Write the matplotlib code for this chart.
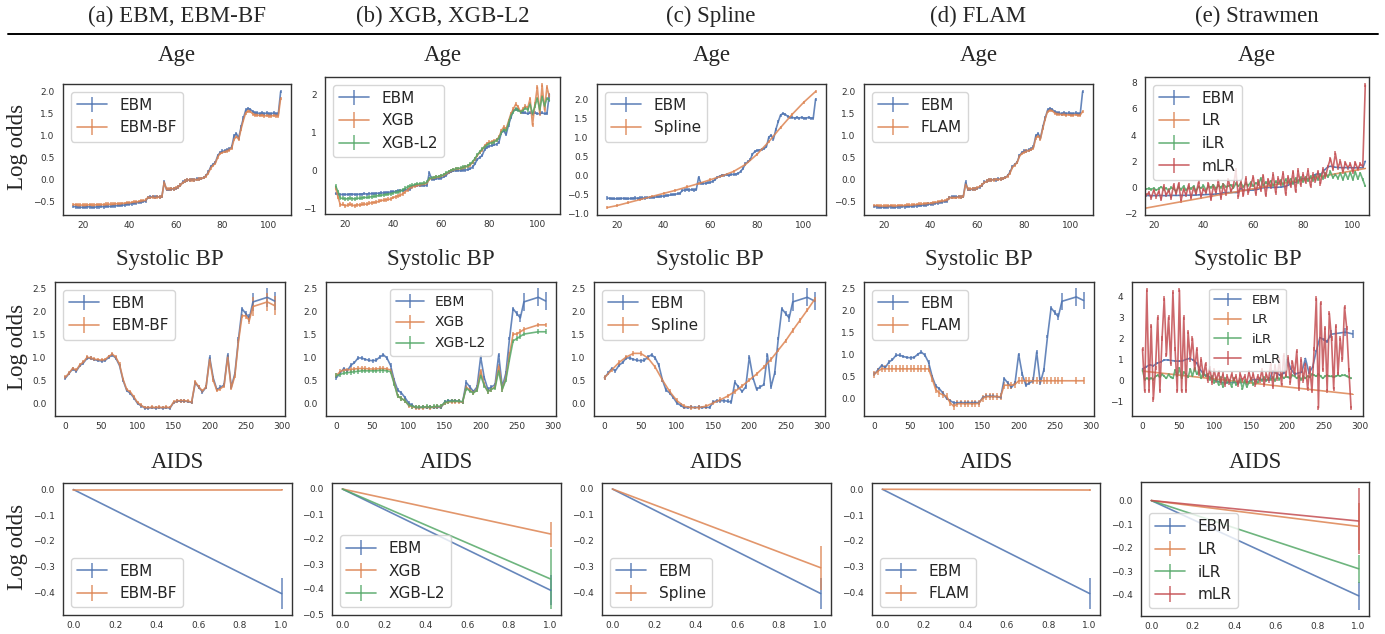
import numpy as np
import matplotlib
matplotlib.use("Agg")
import matplotlib.pyplot as plt
import seaborn as sns

sns.set_style("white")
plt.rcParams['font.family'] = ['DejaVu Sans']

blue, orange, green, red = sns.color_palette("deep")[:4]

# ---------------- Age ----------------
age_x = np.arange(16, 106)

ebm_age = [-0.60, -0.61, -0.62, -0.62, -0.62, -0.62, -0.61, -0.61, -0.62, -0.62,
           -0.61, -0.61, -0.60, -0.61, -0.60, -0.60, -0.60, -0.59, -0.59, -0.58,
           -0.58, -0.57, -0.57, -0.55, -0.55, -0.54, -0.53, -0.52, -0.51, -0.50,
           -0.49, -0.48, -0.40, -0.39, -0.38, -0.39, -0.38, -0.39, -0.38, -0.05,
           -0.22, -0.22, -0.21, -0.20, -0.19, -0.16, -0.12, -0.05, -0.03, 0.00,
           0.00, 0.01, 0.00, 0.02, 0.02, 0.03, 0.05, 0.10, 0.18, 0.30,
           0.35, 0.40, 0.55, 0.62, 0.65, 0.66, 0.68, 0.70, 0.75, 1.00,
           1.05, 0.95, 1.20, 1.40, 1.58, 1.62, 1.60, 1.55, 1.52, 1.52,
           1.50, 1.52, 1.50, 1.52, 1.50, 1.50, 1.52, 1.50, 1.50, 2.00]

ebmbf_age = [-0.56, -0.56, -0.57, -0.57, -0.57, -0.57, -0.57, -0.56, -0.57, -0.57,
             -0.56, -0.56, -0.56, -0.56, -0.55, -0.55, -0.55, -0.55, -0.54, -0.54,
             -0.54, -0.53, -0.53, -0.52, -0.52, -0.51, -0.50, -0.50, -0.49, -0.48,
             -0.47, -0.46, -0.40, -0.40, -0.39, -0.40, -0.39, -0.39, -0.38, -0.06,
             -0.21, -0.21, -0.20, -0.20, -0.18, -0.16, -0.12, -0.06, -0.03, 0.00,
             0.00, 0.00, 0.00, 0.01, 0.02, 0.03, 0.05, 0.09, 0.16, 0.27,
             0.33, 0.38, 0.52, 0.60, 0.62, 0.64, 0.66, 0.68, 0.72, 0.92,
             0.98, 0.92, 1.15, 1.35, 1.52, 1.56, 1.55, 1.50, 1.47, 1.47,
             1.46, 1.47, 1.45, 1.46, 1.45, 1.45, 1.46, 1.45, 1.45, 1.85]

xgb_age = [-0.45, -0.70, -0.90, -0.88, -0.92, -0.90, -0.88, -0.90, -0.92, -0.89,
           -0.90, -0.88, -0.87, -0.88, -0.85, -0.84, -0.83, -0.82, -0.80, -0.78,
           -0.77, -0.76, -0.75, -0.74, -0.70, -0.68, -0.66, -0.64, -0.60, -0.55,
           -0.50, -0.45, -0.42, -0.40, -0.38, -0.37, -0.36, -0.35, -0.33, -0.22,
           -0.20, -0.19, -0.17, -0.16, -0.14, -0.12, -0.08, -0.04, 0.00, 0.02,
           0.04, 0.05, 0.06, 0.08, 0.10, 0.12, 0.15, 0.22, 0.30, 0.40,
           0.48, 0.55, 0.65, 0.72, 0.75, 0.76, 0.78, 0.82, 0.88, 1.05,
           1.15, 1.10, 1.30, 1.50, 1.62, 1.75, 1.68, 1.55, 1.62, 1.70,
           1.65, 1.90, 1.20, 1.75, 2.20, 1.50, 2.25, 1.60, 2.20, 1.95]

xgbl2_age = [-0.40, -0.55, -0.72, -0.72, -0.74, -0.73, -0.72, -0.73, -0.74, -0.72,
             -0.72, -0.71, -0.70, -0.70, -0.69, -0.68, -0.67, -0.66, -0.65, -0.64,
             -0.63, -0.62, -0.61, -0.60, -0.58, -0.56, -0.55, -0.53, -0.50, -0.46,
             -0.42, -0.40, -0.38, -0.36, -0.35, -0.34, -0.34, -0.33, -0.30, -0.20,
             -0.19, -0.18, -0.16, -0.15, -0.13, -0.10, -0.06, -0.02, 0.01, 0.03,
             0.05, 0.06, 0.07, 0.09, 0.11, 0.13, 0.17, 0.24, 0.32, 0.42,
             0.50, 0.57, 0.63, 0.68, 0.72, 0.74, 0.76, 0.80, 0.86, 1.00,
             1.08, 1.05, 1.25, 1.45, 1.55, 1.62, 1.60, 1.55, 1.58, 1.65,
             1.60, 1.75, 1.50, 1.70, 1.90, 1.60, 1.95, 1.70, 1.90, 1.85]

flam_age = [-0.58, -0.58, -0.59, -0.59, -0.59, -0.59, -0.59, -0.58, -0.59, -0.59,
            -0.58, -0.58, -0.58, -0.58, -0.57, -0.57, -0.57, -0.56, -0.56, -0.55,
            -0.55, -0.54, -0.54, -0.53, -0.53, -0.52, -0.51, -0.50, -0.49, -0.48,
            -0.47, -0.46, -0.41, -0.40, -0.40, -0.40, -0.39, -0.39, -0.38, -0.10,
            -0.21, -0.21, -0.20, -0.20, -0.18, -0.15, -0.11, -0.06, -0.03, 0.00,
            0.00, 0.00, 0.01, 0.01, 0.02, 0.03, 0.05, 0.09, 0.16, 0.28,
            0.34, 0.39, 0.53, 0.60, 0.63, 0.65, 0.67, 0.69, 0.73, 0.95,
            1.00, 0.93, 1.17, 1.38, 1.55, 1.58, 1.57, 1.52, 1.50, 1.49,
            1.48, 1.49, 1.47, 1.48, 1.47, 1.47, 1.48, 1.47, 1.47, 1.55]

ilr_age = [-0.10, -0.12, -0.08, -0.15, -0.05, -0.20, -0.10, 0.05, -0.15, -0.05,
           -0.25, 0.00, -0.10, -0.30, 0.05, -0.15, 0.10, -0.20, 0.00, -0.10,
           0.10, -0.25, 0.05, -0.05, 0.15, -0.20, 0.10, 0.00, 0.20, -0.10,
           0.15, 0.00, 0.25, 0.05, 0.10, 0.20, -0.05, 0.30, 0.10, 0.35,
           0.05, 0.30, 0.15, 0.40, 0.10, 0.35, 0.20, 0.70, 0.15, 0.40,
           0.25, 0.50, 0.15, 0.45, 0.30, 0.55, 0.20, 0.60, 0.35, 0.65,
           0.30, 0.70, 0.40, 0.75, 0.45, 0.80, 0.50, 0.85, 0.55, 0.90,
           0.60, 1.00, 0.70, 1.10, 0.80, 1.20, 0.75, 1.00, 0.70, 1.10,
           0.60, 1.10, 0.65, 1.15, 0.60, 1.20, 0.65, 1.10, 0.60, 0.10]

mlr_age = [-0.30, -0.60, -0.40, -0.80, -0.20, -0.70, -0.30, -0.90, 0.10, -0.60,
           -0.20, -0.80, 0.20, -0.50, 0.30, -1.00, -0.10, -0.60, 0.20, -0.80,
           0.00, -0.50, 0.40, -0.70, -0.10, -0.40, 0.30, -0.90, 0.10, -0.40,
           0.50, -0.80, 0.20, -0.50, 0.60, -0.30, 0.10, 1.30, -0.70, 0.40,
           -0.60, 0.70, -0.40, 0.20, 0.80, -0.50, 0.50, -0.20, 0.90, -0.60,
           0.60, 0.00, 1.00, -0.40, 0.70, 0.20, 1.10, -0.50, 0.80, 0.10,
           1.20, -0.30, 1.30, 0.20, 1.00, 0.40, 1.30, 0.10, 1.00, 0.50,
           1.20, 0.30, 1.40, 0.80, 1.60, 2.20, 1.40, 2.60, 1.50, 2.00,
           1.20, 1.90, 1.50, 1.80, 1.20, 1.90, 1.40, 1.80, 1.60, 7.80]

spline_age_x = [16, 20, 25, 30, 35, 40, 45, 50, 55, 60, 65, 70, 75, 80, 85, 90, 95, 100, 105]
spline_age = [-0.85, -0.80, -0.72, -0.64, -0.56, -0.48, -0.40, -0.31, -0.22, -0.12,
              -0.02, 0.10, 0.28, 0.55, 0.88, 1.25, 1.60, 1.92, 2.20]

lr_age_x = [16, 105]
lr_age = [-1.60, 1.45]

# ---------------- Systolic BP ----------------
sbp_x = np.r_[np.arange(0, 261, 5), 280, 290]

ebm_sbp = [0.55, 0.65, 0.75, 0.70, 0.82, 0.88, 0.98, 0.98, 0.95, 0.93,
           0.92, 0.93, 1.00, 1.05, 0.98, 0.82, 0.50, 0.28, 0.22, 0.12,
           0.00, -0.05, -0.10, -0.10, -0.09, -0.10, -0.09, -0.10, -0.09, -0.10,
           0.02, 0.05, 0.05, 0.05, 0.04, 0.02, 0.45, 0.35, 0.25, 0.35,
           1.00, 0.55, 0.30, 0.35, 0.40, 1.05, 0.35, 0.65, 1.40, 2.05,
           1.95, 1.85, 2.20, 2.30, 2.22]
ebm_sbp_err = [0.04] * 50 + [0.06, 0.08, 0.2, 0.2, 0.2]

ebmbf_sbp = [0.57, 0.66, 0.76, 0.72, 0.84, 0.90, 1.00, 0.99, 0.96, 0.95,
             0.94, 0.95, 1.02, 1.07, 1.00, 0.85, 0.52, 0.30, 0.25, 0.14,
             0.02, -0.04, -0.09, -0.09, -0.08, -0.09, -0.08, -0.09, -0.08, -0.09,
             0.03, 0.06, 0.06, 0.06, 0.05, 0.03, 0.47, 0.36, 0.27, 0.36,
             0.95, 0.50, 0.28, 0.32, 0.38, 1.00, 0.33, 0.60, 1.35, 1.90,
             1.90, 1.80, 2.10, 2.20, 2.12]

xgb_sbp = [0.60, 0.68, 0.72, 0.72, 0.73, 0.74, 0.75, 0.75, 0.75, 0.74,
           0.74, 0.74, 0.75, 0.75, 0.74, 0.72, 0.45, 0.15, 0.10, 0.05,
           -0.05, -0.08, -0.10, -0.10, -0.10, -0.09, -0.10, -0.09, -0.08, -0.08,
           0.00, 0.02, 0.03, 0.03, 0.03, 0.02, 0.35, 0.28, 0.22, 0.30,
           0.70, 0.40, 0.25, 0.30, 0.35, 0.80, 0.30, 0.55, 1.05, 1.50,
           1.50, 1.55, 1.60, 1.70, 1.70]

xgbl2_sbp = [0.60, 0.62, 0.65, 0.66, 0.67, 0.68, 0.69, 0.70, 0.70, 0.70,
             0.70, 0.70, 0.71, 0.71, 0.70, 0.68, 0.42, 0.15, 0.10, 0.05,
             -0.04, -0.07, -0.09, -0.09, -0.09, -0.08, -0.09, -0.08, -0.07, -0.07,
             0.01, 0.03, 0.04, 0.04, 0.04, 0.03, 0.32, 0.26, 0.22, 0.28,
             0.60, 0.38, 0.25, 0.30, 0.33, 0.70, 0.30, 0.50, 0.95, 1.35,
             1.40, 1.45, 1.50, 1.55, 1.55]

flam_sbp = [0.55, 0.62, 0.67, 0.67, 0.67, 0.67, 0.67, 0.67, 0.67, 0.67,
            0.67, 0.67, 0.67, 0.67, 0.67, 0.67, 0.45, 0.20, 0.12, 0.08,
            0.05, -0.10, -0.18, -0.12, -0.12, -0.12, -0.12, -0.12, -0.12, -0.11,
            0.00, 0.04, 0.04, 0.04, 0.04, 0.04, 0.30, 0.30, 0.30, 0.32,
            0.40, 0.40, 0.40, 0.40, 0.40, 0.40, 0.40, 0.40, 0.40, 0.40,
            0.40, 0.40, 0.40, 0.40, 0.40]

spline_sbp_x = np.arange(0, 291, 10)
spline_sbp = [0.55, 0.72, 0.88, 1.00, 1.08, 1.08, 0.98, 0.78, 0.50, 0.25,
              0.05, -0.07, -0.10, -0.10, -0.07, 0.00, 0.07, 0.15, 0.25, 0.37,
              0.50, 0.63, 0.78, 0.95, 1.15, 1.35, 1.58, 1.80, 2.02, 2.25]

lr_sbp_x = [0, 290]
lr_sbp = [0.45, -0.65]

fine_sbp_x = np.arange(0, 289, 3)
ilr_sbp = [0.50, 0.05, 0.10, 0.05, 0.10, 0.05, 0.20, 0.25, 0.15, 0.30,
           0.20, 0.10, 0.30, 0.15, 0.10, 0.50, 0.20, 0.60, 0.10, 0.40,
           0.30, 0.15, 0.55, 0.20, 0.60, 0.30, 0.50, 0.10, 0.40, 0.20,
           0.30, 0.05, 0.20, -0.10, 0.10, -0.20, 0.15, -0.30, 0.10, -0.10,
           0.00, -0.30, 0.10, -0.20, -0.10, 0.05, -0.40, 0.00, -0.30, -0.10,
           0.10, -0.20, 0.00, -0.10, 0.10, 0.00, 0.15, 0.00, 0.10, 0.05,
           0.15, 0.00, 0.20, 0.05, 0.25, 0.10, 0.20, 0.15, 0.10, 0.25,
           0.20, 0.10, 0.20, 0.05, 0.20, 0.10, 0.20, 0.15, 0.30, 0.25,
           0.20, 0.30, 0.20, 0.10, 0.20, 0.25, 0.20, 0.20, 0.15, 0.20,
           0.25, 0.20, 0.25, 0.25, 0.20, 0.15, 0.10]
mlr_sbp = [1.50, -0.50, 4.30, -0.50, 2.60, -0.90, 0.60, 3.00, -0.50, 2.00,
           3.90, 1.20, 3.00, 0.80, 4.20, 1.50, -0.50, 4.30, -0.50, 3.00,
           -0.50, 2.30, 1.00, 2.00, 0.50, 1.50, 0.30, 1.00, 0.20, 0.80,
           0.00, 0.60, -0.10, 0.50, 0.00, 0.40, -0.10, 0.30, -0.20, 0.20,
           -0.10, 0.30, 0.00, 0.20, -0.20, 0.30, 0.00, 0.20, -0.10, 0.40,
           0.00, 0.30, -0.20, 0.20, 0.00, 0.50, -0.20, 0.30, 0.00, 0.80,
           -0.30, 0.70, 0.10, 1.00, -0.20, 1.20, 0.20, 1.10, -0.10, 0.90,
           0.30, 1.40, -0.40, 1.00, 0.00, 0.80, -0.40, 0.60, -0.50, 1.50,
           3.90, -1.30, 3.70, 0.50, 2.50, -0.50, 3.20, 2.00, -0.40, 2.60,
           0.30, 2.00, 1.00, 3.50, 2.50, 0.50, -1.30]

# ---------------- AIDS ----------------
aids_x = [0, 1]
ebm_aids, ebm_aids_err = [0, -0.405], [0, 0.06]
ebmbf_aids, ebmbf_aids_err = [0, 0.0], [0, 0.002]
xgb_aids, xgb_aids_err = [0, -0.18], [0, 0.05]
xgbl2_aids, xgbl2_aids_err = [0, -0.36], [0, 0.12]
spline_aids, spline_aids_err = [0, -0.305], [0, 0.085]
flam_aids, flam_aids_err = [0, -0.003], [0, 0.004]
lr_aids, lr_aids_err = [0, -0.11], [0, 0.1]
ilr_aids, ilr_aids_err = [0, -0.29], [0, 0.06]
mlr_aids, mlr_aids_err = [0, -0.087], [0, 0.14]

headers = ['(a) EBM, EBM-BF', '(b) XGB, XGB-L2', '(c) Spline', '(d) FLAM', '(e) Strawmen']

W, H = 1385, 634
fig = plt.figure(figsize=(W / 100, H / 100), dpi=100)
serif = ['Liberation Serif', 'DejaVu Serif']


def add_ax(l, t, r, b):
    return fig.add_axes([l / W, 1 - b / H, (r - l) / W, (b - t) / H])


def curve(ax, x, y, err, color, label):
    ax.errorbar(x, y, yerr=err, color=color, label=label, lw=1.2, elinewidth=1.1, alpha=0.85)


def finish(ax, title, loc, fs=11, xticks=None):
    ax.tick_params(labelsize=6.5, length=0, colors='#333333')
    ax.tick_params(axis='y', pad=6)
    ax.tick_params(axis='x', pad=4)
    for s in ax.spines.values():
        s.set_color('#333333')
        s.set_linewidth(1.0)
    if xticks is not None:
        ax.set_xticks(xticks)
    ax.legend(loc=loc, fontsize=fs)
    bb = ax.get_position()
    fig.text((bb.x0 + bb.x1) / 2, title[1], title[0], ha='center', va='center',
             fontsize=16.5, family=serif)


age_ticks = [20, 40, 60, 80, 100]
sbp_ticks = [0, 50, 100, 150, 200, 250, 300]
aids_ticks = [0.0, 0.2, 0.4, 0.6, 0.8, 1.0]
t1, t2, t3 = 1 - 55 / H, 1 - 260 / H, 1 - 462 / H

# row 1: Age
ax = add_ax(63, 84, 291, 215)
curve(ax, age_x, ebm_age, 0.04, blue, 'EBM')
curve(ax, age_x, ebmbf_age, 0.04, orange, 'EBM-BF')
finish(ax, ('Age', t1), 'upper left', xticks=age_ticks)

ax = add_ax(325, 77, 560, 214)
curve(ax, age_x, ebm_age, 0.04, blue, 'EBM')
curve(ax, age_x, xgb_age, 0.05, orange, 'XGB')
curve(ax, age_x, xgbl2_age, 0.05, green, 'XGB-L2')
ax.set_yticks([-1, 0, 1, 2])
finish(ax, ('Age', t1), 'upper left', xticks=age_ticks)

ax = add_ax(597, 84, 826, 215)
curve(ax, age_x, ebm_age, 0.04, blue, 'EBM')
curve(ax, spline_age_x, spline_age, 0.04, orange, 'Spline')
finish(ax, ('Age', t1), 'upper left', xticks=age_ticks)

ax = add_ax(864, 84, 1093, 215)
curve(ax, age_x, ebm_age, 0.04, blue, 'EBM')
curve(ax, age_x, flam_age, 0.04, orange, 'FLAM')
finish(ax, ('Age', t1), 'upper left', xticks=age_ticks)

ax = add_ax(1145, 77, 1369, 215)
curve(ax, age_x, ebm_age, 0.04, blue, 'EBM')
curve(ax, lr_age_x, lr_age, 0.02, orange, 'LR')
curve(ax, age_x, ilr_age, 0.1, green, 'iLR')
curve(ax, age_x, mlr_age, 0.15, red, 'mLR')
ax.set_xlim(16.5, 106.5)
ax.set_yticks([-2, 0, 2, 4, 6, 8])
finish(ax, ('Age', t1), 'upper left', xticks=age_ticks)

# row 2: Systolic BP
ax = add_ax(55, 282, 285, 416)
curve(ax, sbp_x, ebm_sbp, ebm_sbp_err, blue, 'EBM')
curve(ax, sbp_x, ebmbf_sbp, ebm_sbp_err, orange, 'EBM-BF')
finish(ax, ('Systolic BP', t2), 'upper left', xticks=sbp_ticks)

ax = add_ax(326, 282, 556, 416)
curve(ax, sbp_x, ebm_sbp, ebm_sbp_err, blue, 'EBM')
curve(ax, sbp_x, xgb_sbp, 0.05, orange, 'XGB')
curve(ax, sbp_x, xgbl2_sbp, 0.05, green, 'XGB-L2')
finish(ax, ('Systolic BP', t2), 'upper center', fs=10, xticks=sbp_ticks)

ax = add_ax(594, 282, 825, 416)
curve(ax, sbp_x, ebm_sbp, ebm_sbp_err, blue, 'EBM')
curve(ax, spline_sbp_x, spline_sbp, 0.05, orange, 'Spline')
finish(ax, ('Systolic BP', t2), 'upper left', xticks=sbp_ticks)

ax = add_ax(864, 282, 1094, 416)
curve(ax, sbp_x, ebm_sbp, ebm_sbp_err, blue, 'EBM')
curve(ax, sbp_x, flam_sbp, 0.08, orange, 'FLAM')
finish(ax, ('Systolic BP', t2), 'upper left', xticks=sbp_ticks)

ax = add_ax(1132, 282, 1363, 416)
curve(ax, sbp_x, ebm_sbp, ebm_sbp_err, blue, 'EBM')
curve(ax, lr_sbp_x, lr_sbp, 0.02, orange, 'LR')
curve(ax, fine_sbp_x, ilr_sbp, 0.05, green, 'iLR')
curve(ax, fine_sbp_x, mlr_sbp, 0.1, red, 'mLR')
finish(ax, ('Systolic BP', t2), 'upper center', fs=9.5, xticks=sbp_ticks)

# row 3: AIDS
ax = add_ax(63, 483, 292, 615)
curve(ax, aids_x, ebm_aids, ebm_aids_err, blue, 'EBM')
curve(ax, aids_x, ebmbf_aids, ebmbf_aids_err, orange, 'EBM-BF')
finish(ax, ('AIDS', t3), 'lower left', xticks=aids_ticks)

ax = add_ax(332, 483, 561, 615)
curve(ax, aids_x, ebm_aids, ebm_aids_err, blue, 'EBM')
curve(ax, aids_x, xgb_aids, xgb_aids_err, orange, 'XGB')
curve(ax, aids_x, xgbl2_aids, xgbl2_aids_err, green, 'XGB-L2')
finish(ax, ('AIDS', t3), 'lower left', xticks=aids_ticks)

ax = add_ax(602, 483, 831, 615)
curve(ax, aids_x, ebm_aids, ebm_aids_err, blue, 'EBM')
curve(ax, aids_x, spline_aids, spline_aids_err, orange, 'Spline')
finish(ax, ('AIDS', t3), 'lower left', xticks=aids_ticks)

ax = add_ax(872, 483, 1100, 615)
curve(ax, aids_x, ebm_aids, ebm_aids_err, blue, 'EBM')
curve(ax, aids_x, flam_aids, flam_aids_err, orange, 'FLAM')
finish(ax, ('AIDS', t3), 'lower left', xticks=aids_ticks)

ax = add_ax(1141, 482, 1369, 616)
curve(ax, aids_x, ebm_aids, ebm_aids_err, blue, 'EBM')
curve(ax, aids_x, lr_aids, lr_aids_err, orange, 'LR')
curve(ax, aids_x, ilr_aids, ilr_aids_err, green, 'iLR')
curve(ax, aids_x, mlr_aids, mlr_aids_err, red, 'mLR')
finish(ax, ('AIDS', t3), 'lower left', xticks=aids_ticks)

# column headers, rule and row labels
centers = [177, 443, 711, 978, 1257]
for cx, h in zip(centers, headers):
    fig.text(cx / W, 1 - 16.5 / H, h, ha='center', va='center', fontsize=16.5, family=serif)
fig.add_artist(plt.Line2D([8 / W, 1378 / W], [1 - 33.5 / H, 1 - 33.5 / H], color='black', lw=1.4))
for yc in [147, 347, 547]:
    fig.text(17 / W, 1 - yc / H, 'Log odds', rotation=90, ha='center', va='center',
             fontsize=16.5, family=serif)

fig.savefig('out.png', dpi=100)
